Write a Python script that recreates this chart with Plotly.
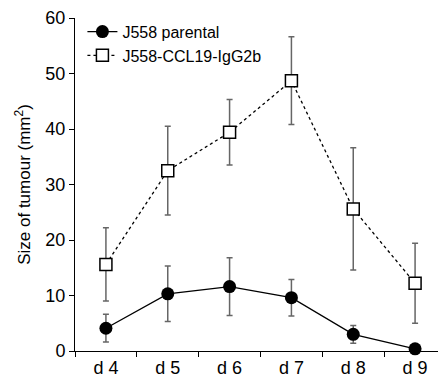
import plotly.graph_objects as go

days = ["d 4", "d 5", "d 6", "d 7", "d 8", "d 9"]
parental = [4.1, 10.3, 11.6, 9.6, 3.0, 0.4]
parental_err = [2.5, 5.0, 5.2, 3.3, 1.6, 0.0]
ccl19 = [15.6, 32.5, 39.4, 48.7, 25.6, 12.2]
ccl19_err = [6.6, 8.0, 5.9, 7.9, 11.0, 7.2]
yticks = [0, 10, 20, 30, 40, 50, 60]

fig = go.Figure()
fig.add_trace(go.Scatter(
    x=days, y=ccl19, name="J558-CCL19-IgG2b", mode="lines+markers",
    legendrank=2,
    line=dict(color="black", width=1.3, dash="dot"),
    marker=dict(symbol="square", size=12, color="white",
                line=dict(color="black", width=1.5)),
    error_y=dict(type="data", array=ccl19_err, color="#666666",
                 thickness=1.5, width=3),
    cliponaxis=False,
))
fig.add_trace(go.Scatter(
    x=days, y=parental, name="J558 parental", mode="lines+markers",
    legendrank=1,
    line=dict(color="black", width=1.3),
    marker=dict(symbol="circle", size=13, color="black"),
    error_y=dict(type="data", array=parental_err, color="#666666",
                 thickness=1.5, width=3),
    cliponaxis=False,
))

fig.update_layout(
    width=438, height=370,
    margin=dict(l=67, r=0, t=10, b=27, autoexpand=False),
    plot_bgcolor="white", paper_bgcolor="white",
    font=dict(family="Liberation Sans, Arial, sans-serif", size=17, color="black"),
    showlegend=True,
    legend=dict(x=0.02, y=1.01, xanchor="left", yanchor="top",
                bgcolor="rgba(0,0,0,0)",
                font=dict(size=16)),
    xaxis=dict(type="category", range=[-0.5, 5.5], showline=True,
               linecolor="black", linewidth=1, ticks="outside",
               tickson="boundaries", ticklen=5, tickcolor="black",
               showgrid=False, zeroline=False, tickfont=dict(size=18),
               automargin=False, ticklabeloverflow="allow"),
    yaxis=dict(range=[0, 60], tickvals=yticks, showline=True,
               linecolor="black", linewidth=1, ticks="outside", ticklen=5,
               tickcolor="black", showgrid=False, zeroline=False,
               tickfont=dict(size=18), automargin=False,
               ticklabeloverflow="allow",
               title=dict(text="Size of tumour (mm<sup>2</sup>)",
                          font=dict(size=17), standoff=10)),
)

fig.write_html("out.html")
